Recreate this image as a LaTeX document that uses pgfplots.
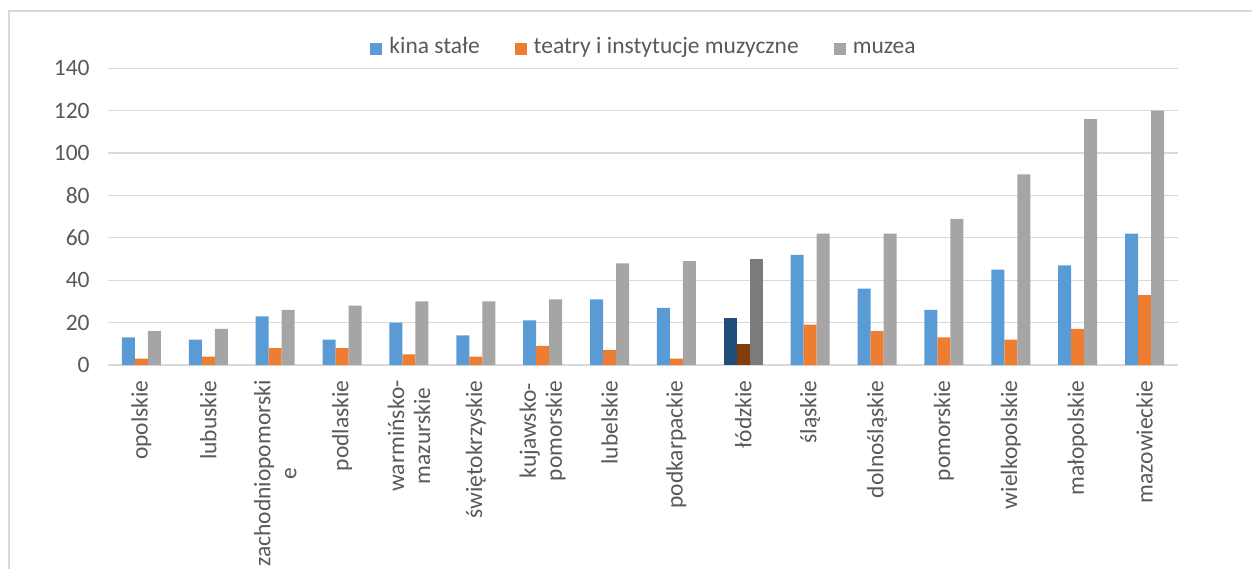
\documentclass[border=0pt]{standalone}
\usepackage{fontspec}
\setmainfont{Carlito}
\usepackage{pgfplots}
\usepackage{pgfplotstable}
\pgfplotsset{compat=1.18}

\definecolor{cblue}{HTML}{5B9BD5}
\definecolor{corange}{HTML}{ED7D31}
\definecolor{cgray}{HTML}{A5A5A5}
\definecolor{dblue}{HTML}{1F4E79}
\definecolor{dorange}{HTML}{843C0C}
\definecolor{dgray}{HTML}{7B7B7B}
\definecolor{gridc}{HTML}{D9D9D9}
\definecolor{textc}{HTML}{595959}

\newcommand{\lbl}{\fontsize{11.75}{13}\selectfont}

% x kina teatry muzea
\pgfplotstableread{
x kina teatry muzea
0 13 3 16
1 12 4 17
2 23 8 26
3 12 8 28
4 20 5 30
5 14 4 30
6 21 9 31
7 31 7 48
8 27 3 49
9 22 10 50
10 52 19 62
11 36 16 62
12 26 13 69
13 45 12 90
14 47 17 116
15 62 33 120
}\dane

\pgfplotsset{
  bez lodzkiego/.style={x filter/.code={\ifnum\coordindex=9 \def\pgfmathresult{}\fi}},
  tylko lodzkie/.style={x filter/.code={\ifnum\coordindex=9 \else\def\pgfmathresult{}\fi}},
}

\begin{document}
\begin{tikzpicture}
\useasboundingbox (0pt,0pt) rectangle (626pt,284pt);
\begin{scope}
\clip (0pt,0pt) rectangle (626pt,284pt);
\draw[gridc, line width=0.8pt] (4.5pt,-20pt) |- (660pt,278.5pt);
\begin{axis}[
  at={(54pt,101.5pt)}, anchor=south west, scale only axis,
  width=535pt, height=148.35pt,
  xmin=-0.5, xmax=15.5, ymin=0, ymax=140,
  ytick={0,20,...,140}, xtick={0,...,15},
  xticklabels={opolskie, lubuskie, {zachodniopomorski\\e}, podlaskie,
    {warmińsko-\\mazurskie}, świętokrzyskie, {kujawsko-\\pomorskie},
    lubelskie, podkarpackie, łódzkie, śląskie, dolnośląskie, pomorskie,
    wielkopolskie, małopolskie, mazowieckie},
  ymajorgrids, grid style={line width=0.6pt, gridc},
  axis line style={draw=none},
  major tick length=0pt,
  tick label style={font=\lbl, text=textc},
  yticklabel style={anchor=east, inner sep=0pt, xshift=-9pt},
  xticklabel style={yshift=-7.5pt, rotate=90, anchor=east, inner sep=0pt, align=center},
  /pgf/number format/assume math mode=true,
  legend columns=-1,
  legend image code/.code={\fill[#1] (0pt,-3.2pt) rectangle (6pt,2.8pt);},
  legend style={at={(0.5,1)}, anchor=center, yshift=10pt, draw=none, fill=none,
    font=\lbl, nodes={inner sep=0pt, text height=0.7em, text depth=0.15em, text=textc},
    /tikz/every odd column/.append style={column sep=3.5pt},
    /tikz/every even column/.append style={column sep=17.5pt}},
]
\addplot[ybar, bar width=0.194, bar shift=-0.194, fill=cblue, draw=none,
  bez lodzkiego] table[x=x, y=kina] {\dane};
\addplot[ybar, bar width=0.194, bar shift=0, fill=corange, draw=none,
  bez lodzkiego] table[x=x, y=teatry] {\dane};
\addplot[ybar, bar width=0.194, bar shift=0.194, fill=cgray, draw=none,
  bez lodzkiego] table[x=x, y=muzea] {\dane};
\legend{kina stałe, teatry i instytucje muzyczne, muzea}
% łódzkie wyróżnione ciemniej
\addplot[ybar, bar width=0.194, bar shift=-0.194, fill=dblue, draw=none, forget plot,
  tylko lodzkie] table[x=x, y=kina] {\dane};
\addplot[ybar, bar width=0.194, bar shift=0, fill=dorange, draw=none, forget plot,
  tylko lodzkie] table[x=x, y=teatry] {\dane};
\addplot[ybar, bar width=0.194, bar shift=0.194, fill=dgray, draw=none, forget plot,
  tylko lodzkie] table[x=x, y=muzea] {\dane};
\end{axis}
\end{scope}
\end{tikzpicture}
\end{document}
